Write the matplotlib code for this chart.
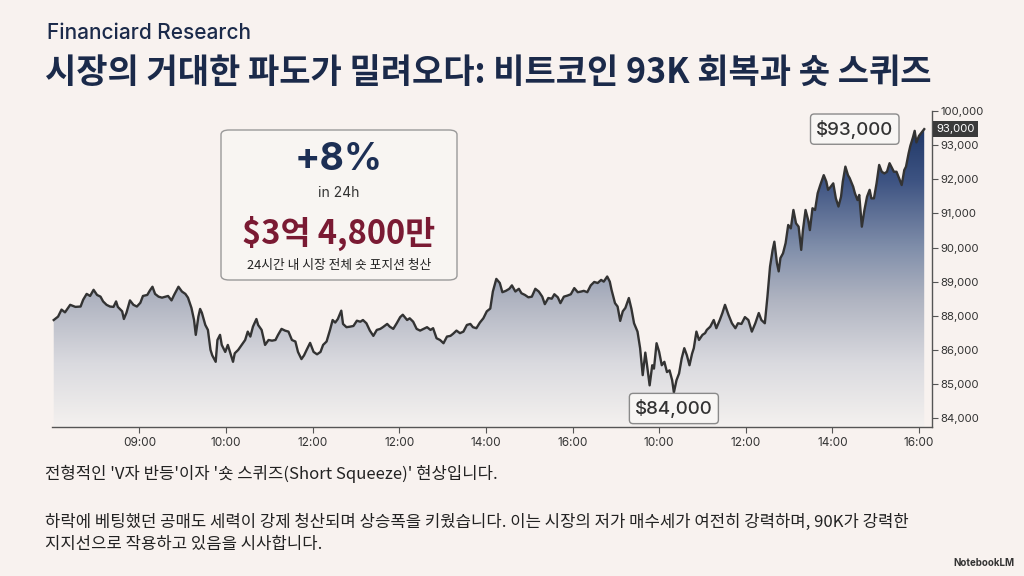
import numpy as np
import matplotlib
matplotlib.use("Agg")
import matplotlib.pyplot as plt
from matplotlib.colors import LinearSegmentedColormap
from matplotlib.patches import FancyBboxPatch, Polygon
from matplotlib.ticker import FuncFormatter

plt.rcParams['font.family'] = ['Noto Sans CJK KR', 'DejaVu Sans']
LATIN = ['Inter', 'Noto Sans CJK KR', 'DejaVu Sans']

# ---------------- data ----------------
t = [0.01,0.06,0.10,0.14,0.20,0.26,0.32,0.35,0.39,0.43,0.47,0.51,0.55,0.58,0.62,0.66,0.70,0.73,0.75,0.80,
     0.82,0.85,0.89,0.93,0.97,1.01,1.04,1.09,1.12,1.15,1.18,1.22,1.26,1.30,1.33,1.37,1.40,1.45,1.49,1.53,
     1.56,1.60,1.63,1.65,1.68,1.70,1.72,1.76,1.79,1.82,1.84,1.88,1.90,1.93,1.95,1.99,2.02,2.05,2.08,2.10,
     2.14,2.18,2.22,2.25,2.28,2.31,2.35,2.37,2.41,2.45,2.49,
     2.53,2.57,2.60,2.64,2.68,2.72,2.76,2.80,2.83,2.87,2.90,2.93,2.97,3.01,3.05,3.09,3.12,3.16,3.20,3.23,
     3.26,3.29,3.33,3.35,3.39,3.43,3.47,3.51,3.55,3.58,3.62,3.66,3.70,3.74,3.78,3.81,3.86,3.89,3.93,3.97,
     4.01,4.04,4.09,4.12,4.16,4.20,4.24,4.28,4.32,4.36,4.39,4.43,4.47,4.51,4.55,4.59,4.62,4.66,4.70,4.74,
     4.78,4.82,4.85,4.89,4.93,4.97,5.01,5.05,
     5.08,5.12,5.16,5.19,5.23,5.27,5.30,5.34,5.38,5.41,5.45,5.49,5.53,5.57,5.61,5.65,5.68,5.72,5.76,5.79,
     5.83,5.86,5.90,5.94,5.98,6.02,6.06,6.10,6.13,6.17,6.21,6.25,6.29,6.33,6.36,6.40,6.43,6.45,6.49,6.52,
     6.55,6.58,6.61,6.65,6.68,6.71,6.75,6.78,6.81,6.84,6.86,6.89,6.92,6.94,6.97,7.00,7.03,7.06,7.09,7.12,
     7.15,7.17,7.20,7.23,7.26,7.29,7.32,7.35,7.38,7.40,7.43,7.46,7.50,7.53,
     7.55,7.59,7.63,7.66,7.70,7.73,7.76,7.80,7.84,7.88,7.91,7.95,7.99,8.03,8.07,8.11,8.15,8.18,8.22,8.25,
     8.28,8.31,8.33,8.36,8.38,8.40,8.43,8.46,8.49,8.52,8.55,8.58,8.61,8.64,8.66,8.69,8.72,8.74,8.77,8.80,
     8.83,8.86,8.90,8.93,8.95,8.98,9.01,9.04,9.07,9.10,9.12,9.15,9.18,9.20,9.24,9.26,9.29,9.31,9.34,9.37,
     9.40,9.43,9.45,9.48,9.51,9.54,9.57,9.60,9.63,9.66,9.69,9.71,9.74,9.77,9.80,9.83,9.85,9.88,9.90,9.93,
     9.95,9.97,10.00,10.03,10.06]

price = [87750,87950,88180,88100,88320,88260,88270,88470,88640,88580,88760,88610,88560,88420,88320,88270,88260,88420,88260,88130,
         87810,88090,88450,88320,88270,88380,88580,88610,88740,88850,88640,88560,88530,88560,88580,88450,88610,88850,88710,88640,
         88530,88230,87750,86880,87950,88200,88090,87460,87170,86000,85840,85650,86580,86880,86290,85940,86290,85900,85650,85900,
         86000,86290,86580,87070,86780,87360,87810,87460,87170,86290,86580,
         86540,86580,86880,87230,87130,87070,86580,86490,85940,85730,85840,86000,86410,85940,85870,85940,86290,86490,87170,87750,
         87600,87810,88150,87520,87330,87360,87400,87710,87650,87750,87560,87130,86820,87170,87230,87330,87520,87360,87230,87560,
         87920,88030,87750,87850,87650,87230,87130,87230,87330,87170,87270,86680,86580,86390,86780,86820,86940,87130,86980,87070,
         87460,87520,87330,87270,87600,87850,88130,88210,
         88710,89080,88960,88690,88730,88790,88890,88710,88790,88660,88610,88540,88560,88790,88710,88560,88340,88520,88500,88630,
         88540,88370,88560,88590,88630,88810,88690,88710,88730,88690,88890,88990,88960,89050,89000,89150,89000,88760,88370,88270,
         87700,88130,88230,88520,88200,87560,87070,86100,85260,85920,85550,84960,85550,85450,86390,85940,85550,85650,85350,85400,
         85110,84750,85110,85310,85750,86100,85840,85550,85890,86100,87070,86580,86880,86980,
         87170,87360,87750,87270,87750,88080,88320,88030,87560,87270,87560,87520,87920,87750,87070,87560,88080,87750,87560,88560,
         89440,89930,90170,89540,89300,89690,89830,90130,90660,90560,91100,90710,90610,89930,90510,91100,90810,90510,91150,91100,
         91590,91830,92120,91930,91690,91780,91880,91440,91200,91490,91930,92370,92120,92030,91780,91590,91390,91540,90610,91100,
         91490,91690,91440,91440,91880,92420,92220,92170,92220,92470,92320,92220,92220,92030,91830,92270,92370,92760,92980,94580,
         95930,93550,94900,95600,96280]

x_tick_labels = ['09:00', '10:00', '12:00', '12:00', '14:00', '16:00', '10:00', '12:00', '14:00', '16:00']
y_ticks = [84000, 85000, 86000, 88000, 89000, 90000, 91000, 92000, 93000, 100000]

title_small = "Financiard Research"
title_main = "시장의 거대한 파도가 밀려오다: 비트코인 93K 회복과 숏 스퀴즈"
stat_big = "+8%"
stat_big_sub = "in 24h"
stat_liq = "$3억 4,800만"
stat_liq_sub = "24시간 내 시장 전체 숏 포지션 청산"
low_label = "$84,000"
high_label = "$93,000"
last_tag = "93,000"
body1 = "전형적인 'V자 반등'이자 '숏 스퀴즈(Short Squeeze)' 현상입니다."
body2 = "하락에 베팅했던 공매도 세력이 강제 청산되며 상승폭을 키웠습니다. 이는 시장의 저가 매수세가 여전히 강력하며, 90K가 강력한"
body3 = "지지선으로 작용하고 있음을 시사합니다."
brand = "NotebookLM"

# ---------------- style ----------------
BG = '#f8f2ef'
NAVY = '#1b2a4a'
TEXT = '#222222'

fig = plt.figure(figsize=(10.24, 5.76), dpi=100, facecolor=BG)
ax = fig.add_axes([52/1024, 1-427/576, (932-52)/1024, (427-111)/576])
ax.set_facecolor(BG)

# piecewise y scale following the tick labels (evenly spaced)
scale_prices = np.array([83000] + y_ticks + [107000], dtype=float)
scale_pos = np.arange(-1, len(y_ticks) + 1, dtype=float)

def fwd(v):
    return np.interp(v, scale_prices, scale_pos)

def inv(p):
    return np.interp(p, scale_pos, scale_prices)

ax.set_yscale('function', functions=(fwd, inv))

ymin = 83740
ymax = 100000
xmin, xmax = -0.01, 10.15

# gradient fill under the line
cmap = LinearSegmentedColormap.from_list('area', [
    (0.00, '#f4f1ef'),
    (0.20, '#dadadf'),
    (0.40, '#b0b4c1'),
    (0.56, '#8290ab'),
    (0.78, '#3d5382'),
    (1.00, '#172f5e')])
grad = np.linspace(0, 1, 512).reshape(-1, 1)
im = ax.imshow(grad, origin='lower', extent=(0, 1, 0, 1), transform=ax.transAxes,
               cmap=cmap, aspect='auto', zorder=1, interpolation='bilinear')
verts = list(zip(t, price)) + [(t[-1], ymin), (t[0], ymin)]
clip = Polygon(verts, closed=True, transform=ax.transData, facecolor='none', edgecolor='none')
ax.add_patch(clip)
im.set_clip_path(clip)

ax.plot(t, price, color='#333333', lw=1.7, zorder=3, solid_joinstyle='round')

ax.set_xlim(xmin, xmax)
ax.set_ylim(ymin, ymax)

# axes styling
for s in ['left', 'top']:
    ax.spines[s].set_visible(False)
for s in ['right', 'bottom']:
    ax.spines[s].set_color('#555555')
    ax.spines[s].set_linewidth(1.0)

ax.set_xticks(np.arange(1, len(x_tick_labels) + 1))
ax.set_xticklabels(x_tick_labels, family=LATIN)
ax.yaxis.tick_right()
ax.set_yticks(y_ticks)
ax.yaxis.set_major_formatter(FuncFormatter(lambda v, p: f"{v:,.0f}"))
ax.yaxis.set_minor_locator(matplotlib.ticker.NullLocator())
for lab in ax.get_yticklabels():
    lab.set_family(LATIN)
ax.tick_params(axis='x', length=4, color='#555555', labelsize=8.5, labelcolor='#333333', pad=3)
ax.tick_params(axis='y', length=4, color='#555555', labelsize=8.2, labelcolor='#333333', pad=2)

# current price tag on axis
ax.annotate(last_tag, xy=(1, price[-1]), xycoords=('axes fraction', 'data'),
            xytext=(3, 0), textcoords='offset points', ha='left', va='center',
            fontsize=8.2, color='white', zorder=6, annotation_clip=False, family=LATIN,
            bbox=dict(boxstyle='square,pad=0.25', fc='#3a3a3a', ec='none'))

# low / high labels
i_lo = int(np.argmin(price))
i_hi = int(np.argmax(price))
lbl_box = dict(boxstyle='round,pad=0.3,rounding_size=0.2', fc='#f8f6f4', ec='#8a8a8a', lw=1)
ax.annotate(low_label, xy=(t[i_lo], price[i_lo]), xytext=(0, -11.5), textcoords='offset points',
            ha='center', va='center', fontsize=13.5, color='#333333', bbox=lbl_box, zorder=7,
            family=LATIN, fontweight='medium')
ax.annotate(high_label, xy=(t[i_hi], price[i_hi]), xytext=(-50, 0), textcoords='offset points',
            ha='center', va='center', fontsize=13.5, color='#333333', bbox=lbl_box, zorder=7,
            family=LATIN, fontweight='medium')

# stats card
card = FancyBboxPatch((221/1024, 1-280/576), (457-221)/1024, (280-130)/576,
                      boxstyle='round,pad=0,rounding_size=0.008', transform=fig.transFigure,
                      fc='#f8f5f2', ec='#9a9a9a', lw=1, zorder=10)
fig.patches.append(card)
cx = 339/1024
fig.text(cx, 1-160/576, stat_big, ha='center', va='center', fontsize=27, fontweight='bold',
         color='#1c2f55', zorder=11, family=LATIN)
fig.text(cx, 1-193/576, stat_big_sub, ha='center', va='center', fontsize=10, color='#333333',
         zorder=11, family=LATIN)
fig.text(cx, 1-233/576, stat_liq, ha='center', va='center', fontsize=23.5, fontweight='bold',
         color='#7a1a33', zorder=11)
fig.text(cx, 1-265/576, stat_liq_sub, ha='center', va='center', fontsize=9.2, color='#222222', zorder=11)

# titles
fig.text(47/1024, 1-33/576, title_small, ha='left', va='center', fontsize=15, color=NAVY,
         fontweight='medium', family=LATIN)
fig.text(45/1024, 1-72/576, title_main, ha='left', va='center', fontsize=24.5, color=NAVY, fontweight='bold')

# body text
fig.text(45/1024, 1-474/576, body1, ha='left', va='center', fontsize=12, color=TEXT)
fig.text(45/1024, 1-522/576, body2, ha='left', va='center', fontsize=12, color=TEXT)
fig.text(45/1024, 1-545/576, body3, ha='left', va='center', fontsize=12, color=TEXT)

fig.text(1015/1024, 1-563/576, brand, ha='right', va='center', fontsize=7, color='#333333',
         fontweight='bold', family=LATIN)

fig.savefig('out.png', dpi=100, facecolor=BG)
